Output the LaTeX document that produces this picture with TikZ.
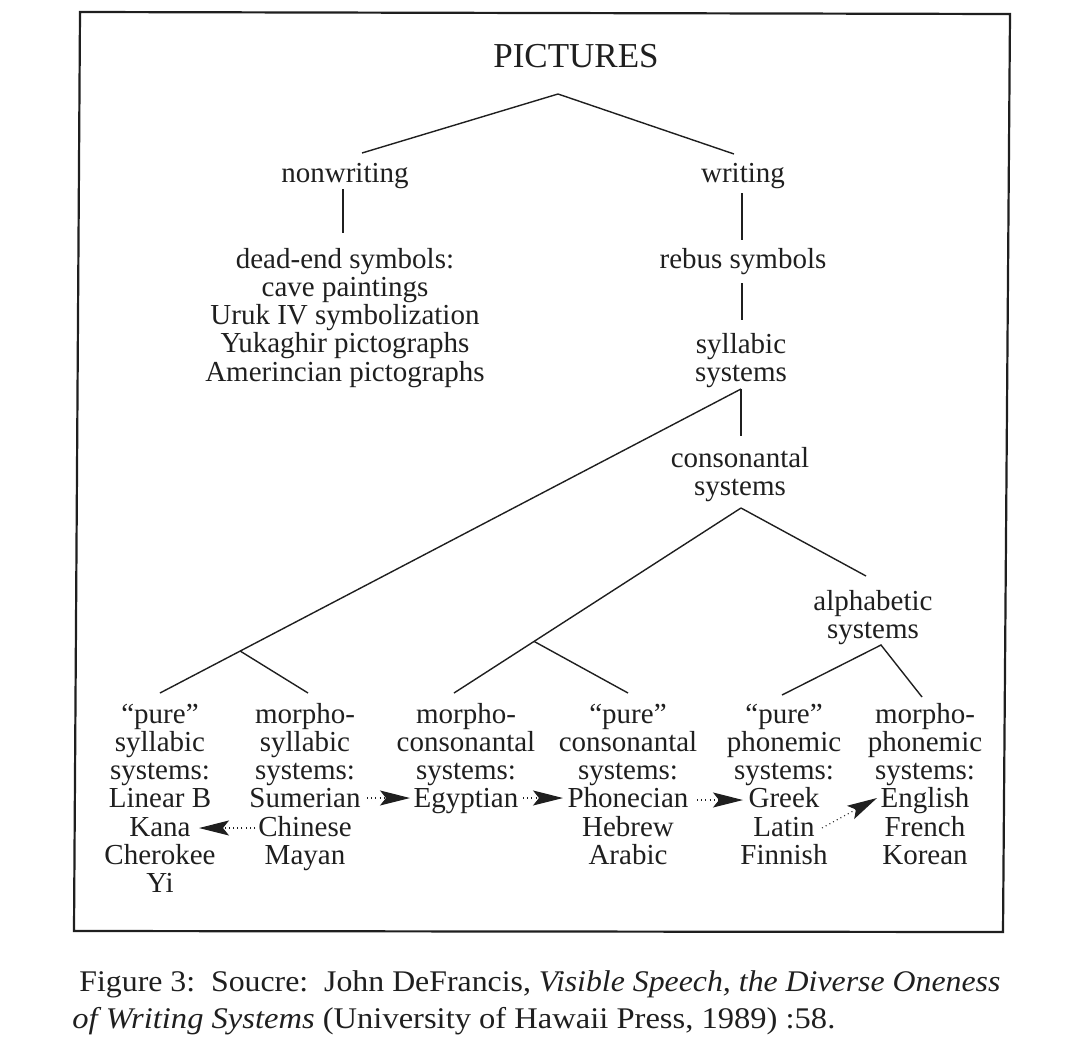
\documentclass[tikz,border=0pt]{standalone}
\usepackage{fontspec}
\setmainfont{Liberation Serif}
\usepackage{graphicx}
\usetikzlibrary{arrows.meta,calc}
\definecolor{ink}{gray}{0.12}
\begin{document}
\begin{tikzpicture}[x=0.5pt,y=-0.5pt,
  lbl/.style={font=\fontsize{14.5}{14.15}\selectfont, inner sep=0pt, align=center, anchor=base, text=ink},
  toptitle/.style={font=\fontsize{17.5}{20}\selectfont, inner sep=0pt, anchor=base, text=ink},
  captxt/.style={font=\fontsize{15}{17}\selectfont, inner sep=0pt, anchor=base west, text=ink},
  branch/.style={draw=ink, line width=0.7pt},
  frameline/.style={draw=ink, line width=1.1pt, line join=miter},
  darr/.style={draw=ink, line width=0.55pt, dash pattern=on 0.5pt off 1.6pt,
     -{Stealth[length=15pt,width=7.5pt,inset=3pt,fill=ink]}}
]
\useasboundingbox (0,0) rectangle (1081,1050);

% frame
\draw[frameline] (80,12) -- (1010,14) -- (1003,932) -- (74,931) -- cycle;

% upper nodes (anchor = baseline of the last line)
\node[toptitle] (pictures) at (576,67) {PICTURES};
\node[lbl] (nonwriting) at (345,182) {nonwriting};
\node[lbl] (writing) at (743,182) {writing};
\node[lbl] (deadend) at (345,381.2) {dead-end symbols:\\cave paintings\\Uruk IV symbolization\\Yukaghir pictographs\\Amerincian pictographs};
\node[lbl] (rebus) at (743,268) {rebus symbols};
\node[lbl] (syllabic) at (741,381.3) {syllabic\\systems};
\node[lbl] (consonantal) at (740,495.3) {consonantal\\systems};
\node[lbl] (alphabetic) at (873,638.3) {alphabetic\\systems};

% bottom columns
\node[lbl] (pursyl) at (160,892.8) {“pure”\\syllabic\\systems:\\Linear B\\Kana\\Cherokee\\Yi};
\node[lbl] (morsyl) at (305,864.5) {morpho-\\syllabic\\systems:\\Sumerian\\Chinese\\Mayan};
\node[lbl] (morcon) at (466,807.9) {morpho-\\consonantal\\systems:\\Egyptian};
\node[lbl] (purcon) at (628,864.5) {“pure”\\consonantal\\systems:\\Phonecian\\Hebrew\\Arabic};
\node[lbl] (purpho) at (784,864.5) {“pure”\\phonemic\\systems:\\Greek\\Latin\\Finnish};
\node[lbl] (morpho) at (925,864.5) {morpho-\\phonemic\\systems:\\English\\French\\Korean};

% tree coordinates
\coordinate (pA) at (558,94);
\coordinate (nwT) at (362,153);
\coordinate (wT) at (734,154);
\coordinate (nwB) at (343,189);
\coordinate (deT) at (343,233);
\coordinate (wB) at (742,193);
\coordinate (rbT) at (742,240);
\coordinate (rbB) at (742,283);
\coordinate (syT) at (742,320);
\coordinate (syA) at (741,389);
\coordinate (csT) at (741,436);
\coordinate (c1T) at (160,693);
\coordinate (c2T) at (308,693);
\coordinate (csA) at (741,508);
\coordinate (c3T) at (454,693);
\coordinate (c4T) at (628,693);
\coordinate (alT) at (866,576);
\coordinate (alA) at (881,645);
\coordinate (c5T) at (782,695);
\coordinate (c6T) at (922,697);
\coordinate (j1) at ($(syA)!0.862!(c1T)$);
\coordinate (j2) at ($(csA)!0.721!(c3T)$);

% tree lines
\draw[branch] (nwT) -- (pA) -- (wT);
\draw[branch] (nwB) -- (deT);
\draw[branch] (wB) -- (rbT);
\draw[branch] (rbB) -- (syT);
\draw[branch] (syA) -- (c1T);
\draw[branch] (syA) -- (csT);
\draw[branch] (j1) -- (c2T);
\draw[branch] (csA) -- (c3T);
\draw[branch] (j2) -- (c4T);
\draw[branch] (csA) -- (alT);
\draw[branch] (c5T) -- (alA) -- (c6T);

% dotted arrows
\coordinate (sumE) at (367,798); \coordinate (egyW) at (410,798);
\coordinate (egyE) at (523,798); \coordinate (phoW) at (563,798);
\coordinate (chiW) at (255,828); \coordinate (kanE) at (199,828);
\coordinate (phoE) at (697,800); \coordinate (greW) at (743,800);
\coordinate (latE) at (822,828); \coordinate (engW) at (877,798);
\draw[darr] (sumE) -- (egyW);
\draw[darr] (egyE) -- (phoW);
\draw[darr] (chiW) -- (kanE);
\draw[darr] (phoE) -- (greW);
\draw[darr] (latE) -- (engW);

% caption
\node[captxt] (cap1) at (79,991) {\resizebox{460.5pt}{\height}{Figure 3:\ \ Soucre:\ \ John DeFrancis, \textit{Visible Speech, the Diverse Oneness}}};
\node[captxt] (cap2) at (72,1028) {\resizebox{381.5pt}{\height}{\textit{of Writing Systems} (University of Hawaii Press, 1989) :58.}};
\end{tikzpicture}
\end{document}
